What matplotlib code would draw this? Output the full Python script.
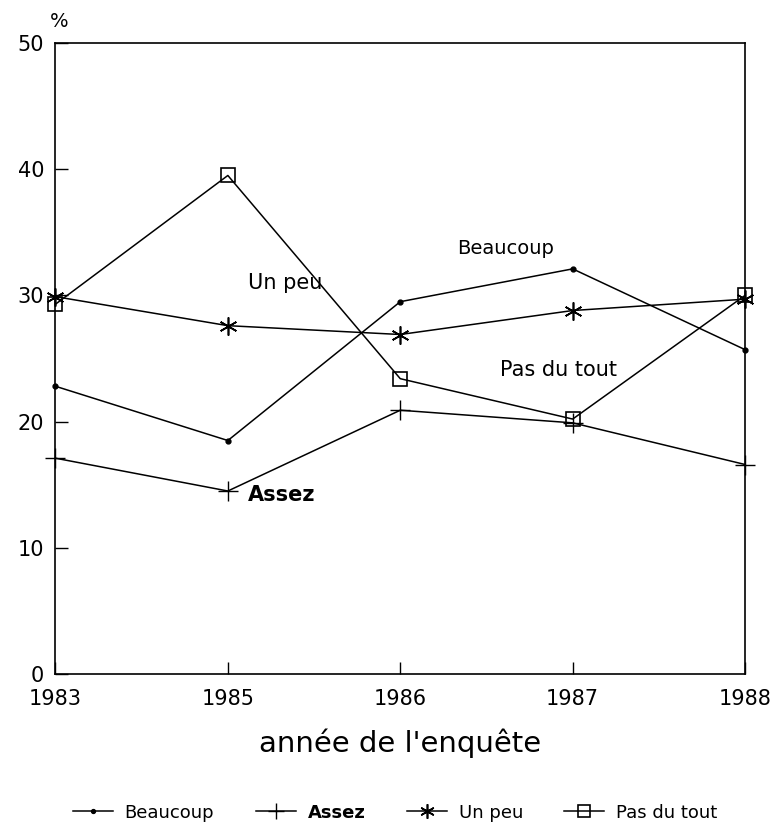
import matplotlib
matplotlib.use("Agg")
import matplotlib.pyplot as plt
from matplotlib.lines import Line2D

years = ["1983", "1985", "1986", "1987", "1988"]
beaucoup = [22.8, 18.5, 29.5, 32.1, 25.7]
assez = [17.1, 14.5, 20.9, 19.9, 16.6]
un_peu = [29.9, 27.6, 26.9, 28.8, 29.7]
pas_du_tout = [29.3, 39.5, 23.4, 20.2, 30.0]
series_names = ["Beaucoup", "Assez", "Un peu", "Pas du tout"]
y_ticks = [0, 10, 20, 30, 40, 50]

plt.rcParams['font.family'] = ['DejaVu Sans']

fig = plt.figure(figsize=(7.81, 8.26), dpi=100)
ax = fig.add_axes([0.071, 0.184, 0.883, 0.764])

x = list(range(len(years)))
styles = [
    dict(marker='o', markersize=3.5, mfc='black'),
    dict(marker='+', markersize=14, mew=1.0),
    dict(marker=(6, 2, 0), markersize=13, mew=1.2),
    dict(marker='s', markersize=10, mfc='none', mew=1.2),
]
data = [beaucoup, assez, un_peu, pas_du_tout]
for vals, st in zip(data, styles):
    ax.plot(x, vals, color='black', lw=1.1, clip_on=False, **st)

ax.set_xlim(0, len(years) - 1)
ax.set_ylim(0, 50)
ax.set_yticks(y_ticks)
ax.set_xticks(x)
ax.set_xticklabels(years, fontsize=15)
ax.set_yticklabels([str(v) for v in y_ticks], fontsize=15)
ax.tick_params(direction='in', length=9, width=1.0)
ax.tick_params(axis='x', pad=11)
ax.tick_params(axis='y', pad=8)
for s in ax.spines.values():
    s.set_linewidth(1.2)

ax.text(0.02, 51.7, '%', fontsize=14, ha='center', va='center')

ax.text(2.61, 33.7, 'Beaucoup', fontsize=14, ha='center', va='center')
ax.text(1.33, 31.0, 'Un peu', fontsize=15, ha='center', va='center')
ax.text(2.92, 24.1, 'Pas du tout', fontsize=15, ha='center', va='center')
ax.text(1.31, 14.2, 'Assez', fontsize=15, ha='center', va='center', fontweight='bold')

ax.set_xlabel("année de l'enquête", fontsize=21, labelpad=14)

handles = [Line2D([0], [0], color='black', lw=1.1, **st) for st in styles]
for h, st in zip(handles, styles):
    h.set_markersize(st['markersize'] * 0.8)
leg = fig.legend(handles, series_names, loc='center', ncol=4, frameon=False,
                 fontsize=13, bbox_to_anchor=(0.506, 0.016), handlelength=2.2,
                 columnspacing=2.3, handletextpad=0.66)
leg.get_texts()[1].set_fontweight('bold')

fig.savefig('out.png', dpi=100, facecolor='white')
